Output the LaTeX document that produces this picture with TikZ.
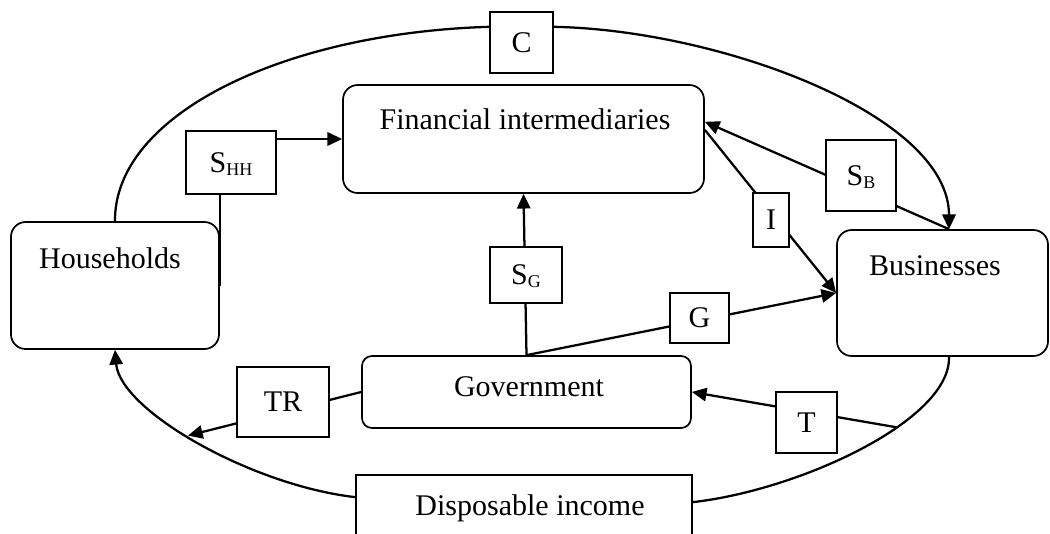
\documentclass[tikz,border=0pt]{standalone}
\usepackage{fontspec}
\setmainfont{Liberation Serif}
\usetikzlibrary{arrows.meta,calc,backgrounds}
\newcommand\lowsub[1]{\raisebox{-2.25pt}{\fontsize{13.5pt}{13.5pt}\selectfont #1}}
\begin{document}
\begin{tikzpicture}[x=0.75pt,y=-0.75pt,
  font=\fontsize{22.5pt}{27pt}\selectfont,
  bigbox/.style={draw,line width=1.3pt,rounded corners=11pt,fill=white,inner sep=0pt},
  lblbox/.style={draw,line width=1.3pt,fill=white,inner sep=0pt,text depth=0pt},
  flow/.style={line width=1.7pt},
  arr/.style={flow,-{Triangle[length=11pt,width=10pt]}}
]
\useasboundingbox (0,0) rectangle (1050,533);

% main boxes
\node[bigbox,minimum width=156pt,minimum height=95.25pt] (hh) at (115,285.5) {};
\node[bigbox,minimum width=270.75pt,minimum height=81pt] (fi) at (523.5,139) {};
\node[bigbox,minimum width=158.25pt,minimum height=94.5pt] (bus) at (942.5,293) {};
\node[bigbox,rounded corners=7.5pt,minimum width=246.75pt,minimum height=54pt] (gov) at (526.5,392) {};
\node[draw,line width=1.3pt,fill=white,minimum width=252pt,minimum height=67.5pt] (di) at (524,520) {};

\node[anchor=base] (hht) at (110,268) {Households};
\node[anchor=base] (fit) at (525,129) {Financial intermediaries};
\node[anchor=base] (bust) at (935,275) {Businesses};
\node[anchor=base] (govt) at (529,396) {Government};
\node[anchor=base] (dit) at (530,515) {Disposable income};

% label boxes
\node[lblbox,minimum width=47.25pt,minimum height=45.75pt] (c) at (521.5,42.5) {C};
\node[lblbox,minimum width=67.5pt,minimum height=47.25pt] (shh) at (231,162.5) {S\lowsub{HH}};
\node[lblbox,minimum width=52.5pt,minimum height=53.25pt] (sb) at (861,175.5) {S\lowsub{B}};
\node[lblbox,minimum width=27pt,minimum height=40.5pt] (i) at (771,220) {I};
\node[lblbox,minimum width=54pt,minimum height=42pt] (sg) at (526,275) {S\lowsub{G}};
\node[lblbox,minimum width=44.25pt,minimum height=37.5pt] (g) at (699.5,318) {G};
\node[lblbox,minimum width=69pt,minimum height=52.5pt] (tr) at (283,402) {TR};
\node[lblbox,minimum width=45.75pt,minimum height=45.75pt] (t) at (806.5,422.5) {T};

\coordinate (bt) at ($(bus.north)+(6.5,0)$);

\begin{scope}[on background layer]
  % circular flow
  \draw[flow] (hh.north) .. controls (114,115) and (283,33) .. ($(c.north west)!0.25!(c.south west)$);
  \draw[arr] ($(c.north east)!0.25!(c.south east)$) .. controls (720,30) and (949,115) .. (bt);
  \draw[flow] (bt |- bus.south) .. controls (951,420) and (800,490) .. ($(di.north east)+(0,28)$) coordinate[pos=0.375] (tpt);
  \draw[arr] ($(di.north west)+(0,23)$) .. controls (250,485) and (120,410) .. (hh.south) coordinate[pos=0.535] (trpt);
  % flows
  \draw[arr] (shh.east |- fi.west) -- (fi.west);
  \draw[flow] (hh.east |- shh.south) -- (hh.east);
  \draw[arr] (gov.north) -- (fi.south);
  \draw[arr] (gov.north) -- (bus.west);
  \draw[arr] ($(fi.north east)!0.417!(fi.south east)$) -- (bus.west);
  \draw[arr] (bt) -- ($(fi.north east)!0.343!(fi.south east)$);
  \draw[arr] (tpt) -- (gov.east);
  \draw[arr] (gov.west) -- (trpt);
\end{scope}
\end{tikzpicture}
\end{document}
